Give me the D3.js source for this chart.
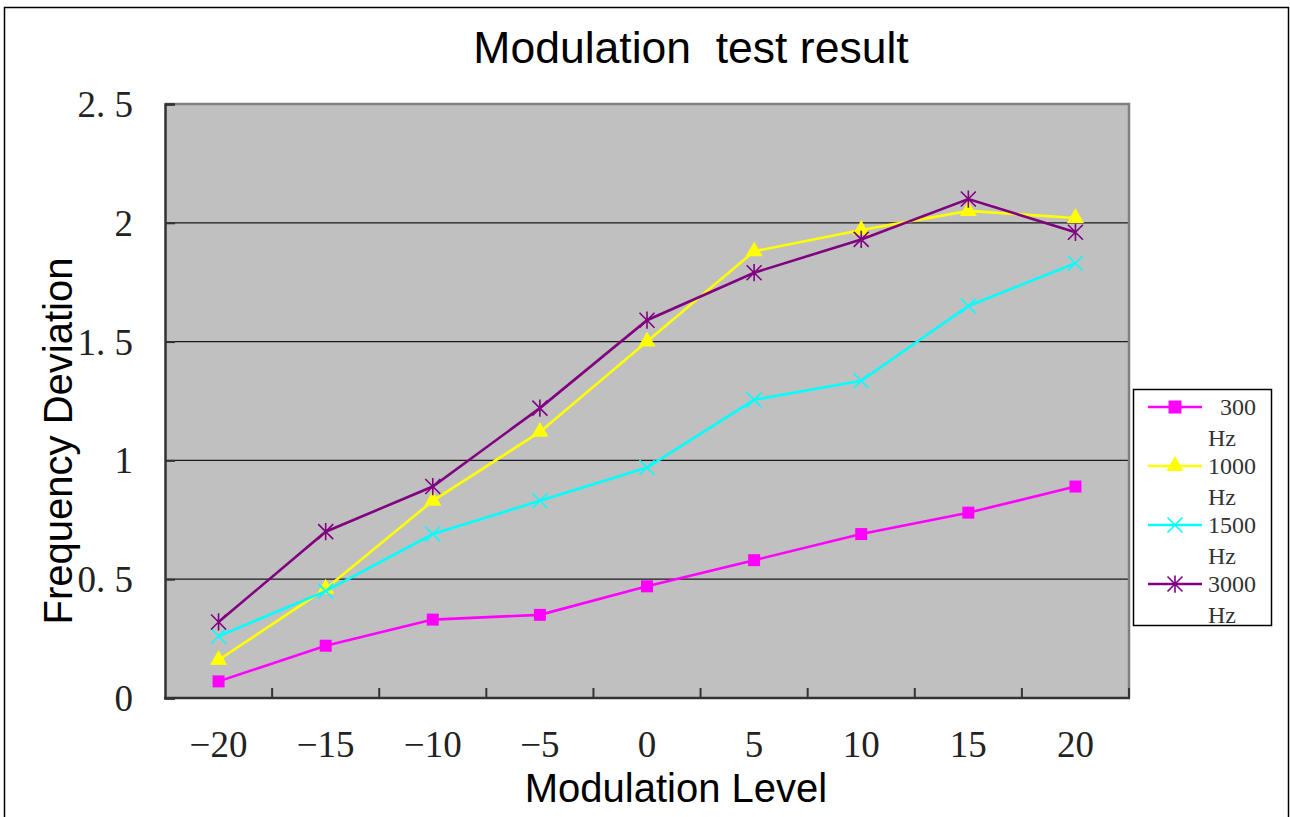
<!DOCTYPE html>
<html>
<head>
<meta charset="utf-8">
<script src="https://cdn.jsdelivr.net/npm/d3@7/dist/d3.min.js"></script>
<style>
  html, body { margin: 0; padding: 0; background: #ffffff; }
  svg { display: block; }
</style>
</head>
<body>
<svg id="chart" width="1290" height="817"></svg>
<script>
// ---- Data ----
const categories = ["-20", "-15", "-10", "-5", "0", "5", "10", "15", "20"];
const xTickLabels = ["\u221220", "\u221215", "\u221210", "\u22125", "0", "5", "10", "15", "20"];
const yTicks = [0, 0.5, 1, 1.5, 2, 2.5];
const yTickLabels = ["0", "0. 5", "1", "1. 5", "2", "2. 5"];
const seriesNames = ["300", "1000", "1500", "3000"];
const values300 = [0.07, 0.22, 0.33, 0.35, 0.47, 0.58, 0.69, 0.78, 0.89];
const values1000 = [0.16, 0.46, 0.83, 1.12, 1.50, 1.88, 1.97, 2.05, 2.02];
const values1500 = [0.26, 0.45, 0.69, 0.83, 0.97, 1.255, 1.335, 1.65, 1.83];
const values3000 = [0.32, 0.70, 0.89, 1.22, 1.59, 1.79, 1.93, 2.10, 1.96];
const titleText = "Modulation\u00a0 test result";
const xTitle = "Modulation Level";
const yTitle = "Frequency Deviation";

const seriesValues = [values300, values1000, values1500, values3000];
const colors = ["#FF00FF", "#FFFF00", "#00FFFF", "#800080"];
const markers = ["square", "triangle", "x", "star"];

// ---- Layout ----
const svg = d3.select("#chart");
const plot = { left: 165, right: 1129, top: 104, bottom: 698 };

const x = d3.scaleBand().domain(categories).range([plot.left, plot.right]).padding(0);
const y = d3.scaleLinear().domain([0, 2.5]).range([plot.bottom, plot.top]);

// Outer frame
svg.append("rect")
  .attr("x", 4.5).attr("y", 7.5)
  .attr("width", 1284).attr("height", 830)
  .attr("fill", "none").attr("stroke", "#000").attr("stroke-width", 1.5);

// Plot background
svg.append("rect")
  .attr("x", plot.left).attr("y", plot.top)
  .attr("width", plot.right - plot.left).attr("height", plot.bottom - plot.top)
  .attr("fill", "#C0C0C0");

// Gridlines
svg.append("g").selectAll("line")
  .data(yTicks.filter(d => d > 0 && d < 2.5))
  .join("line")
  .attr("x1", plot.left).attr("x2", plot.right)
  .attr("y1", d => y(d)).attr("y2", d => y(d))
  .attr("stroke", "#1a1a1a").attr("stroke-width", 1.3);

// Top and right border (gray)
svg.append("path")
  .attr("d", `M${plot.left},${plot.top}H${plot.right}V${plot.bottom}`)
  .attr("fill", "none").attr("stroke", "#808080").attr("stroke-width", 2.5);

// Y axis (left)
const yAxis = d3.axisLeft(y).tickValues(yTicks).tickSize(-10)
  .tickFormat((d, i) => yTickLabels[i]).tickPadding(32);
const gy = svg.append("g").attr("transform", `translate(${plot.left},0)`).call(yAxis);
gy.select(".domain").attr("stroke", "#333").attr("stroke-width", 2.5);
gy.selectAll(".tick line").attr("stroke", "#333").attr("stroke-width", 2);
gy.selectAll(".tick text")
  .attr("font-family", "'Liberation Serif', 'DejaVu Serif', serif")
  .attr("font-size", 37).attr("fill", "#222")
  .attr("x", -(plot.left - 133)).attr("dy", "0.34em");

// X axis (bottom) with inward ticks at category boundaries
const boundaries = categories.slice(1).map(c => x(c)).concat([plot.right]);
svg.append("g").selectAll("line")
  .data(boundaries)
  .join("line")
  .attr("x1", d => d).attr("x2", d => d)
  .attr("y1", plot.bottom).attr("y2", plot.bottom - 10)
  .attr("stroke", "#333").attr("stroke-width", 2);
svg.append("line")
  .attr("x1", plot.left - 1).attr("x2", plot.right + 1)
  .attr("y1", plot.bottom).attr("y2", plot.bottom)
  .attr("stroke", "#333").attr("stroke-width", 2.5);

const xAxis = d3.axisBottom(x).tickSize(0).tickFormat((d, i) => xTickLabels[i]);
const gx = svg.append("g").attr("transform", `translate(0,${plot.bottom})`).call(xAxis);
gx.select(".domain").remove();
gx.selectAll(".tick text")
  .attr("font-family", "'Liberation Serif', 'DejaVu Serif', serif")
  .attr("font-size", 37).attr("fill", "#222")
  .attr("y", 59).attr("dy", 0);

// Marker generator
function markerPath(type, s) {
  if (type === "square") return d3.symbol(d3.symbolSquare, s * s)();
  if (type === "triangle") return d3.symbol(d3.symbolTriangle, s * s * 0.5)();
  const r = s / 2;
  if (type === "x") return `M${-r},${-r}L${r},${r}M${-r},${r}L${r},${-r}`;
  return `M${-r},${-r}L${r},${r}M${-r},${r}L${r},${-r}M0,${-r * 1.15}L0,${r * 1.15}`;
}
function drawMarker(g, type, color, cx, cy, s) {
  const filled = type === "square" || type === "triangle";
  g.append("path")
    .attr("d", markerPath(type, s))
    .attr("transform", `translate(${cx},${cy})`)
    .attr("fill", filled ? color : "none")
    .attr("stroke", color)
    .attr("stroke-width", filled ? 0 : 1.6);
}

// Lines and markers
const line = d3.line().x((d, i) => x(categories[i]) + x.bandwidth() / 2).y(d => y(d));
seriesValues.forEach((vals, si) => {
  const g = svg.append("g");
  g.append("path").datum(vals)
    .attr("d", line)
    .attr("fill", "none").attr("stroke", colors[si]).attr("stroke-width", 2.6);
  vals.forEach((v, i) => {
    drawMarker(g, markers[si], colors[si], x(categories[i]) + x.bandwidth() / 2, y(v),
      markers[si] === "square" ? 12 : markers[si] === "triangle" ? 16 : 15);
  });
});

// Title
svg.append("text")
  .attr("x", 691).attr("y", 63)
  .attr("text-anchor", "middle")
  .attr("font-family", "'Liberation Sans', Arial, sans-serif")
  .attr("font-size", 44.5).attr("fill", "#000")
  .text(titleText);

// Axis titles
svg.append("text")
  .attr("x", 676).attr("y", 802)
  .attr("text-anchor", "middle")
  .attr("font-family", "'Liberation Sans', Arial, sans-serif")
  .attr("font-size", 40).attr("fill", "#000")
  .text(xTitle);
svg.append("text")
  .attr("transform", "translate(72,441) rotate(-90)")
  .attr("text-anchor", "middle")
  .attr("font-family", "'Liberation Sans', Arial, sans-serif")
  .attr("font-size", 40).attr("fill", "#000")
  .text(yTitle);

// Legend
const legend = svg.append("g");
legend.append("rect")
  .attr("x", 1133.5).attr("y", 389.5).attr("width", 138).attr("height", 236)
  .attr("fill", "#fff").attr("stroke", "#000").attr("stroke-width", 1.5);
const legendRowY = [407, 466, 525, 584];
seriesNames.forEach((name, si) => {
  const ly = legendRowY[si];
  legend.append("line")
    .attr("x1", 1148).attr("x2", 1202).attr("y1", ly).attr("y2", ly)
    .attr("stroke", colors[si]).attr("stroke-width", 2.6);
  drawMarker(legend, markers[si], colors[si], 1175, ly,
    markers[si] === "square" ? 13 : markers[si] === "triangle" ? 16 : 15);
  legend.append("text")
    .attr("x", 1256).attr("y", ly + 8)
    .attr("text-anchor", "end")
    .attr("font-family", "'Liberation Serif', 'DejaVu Serif', serif")
    .attr("font-size", 24).attr("fill", "#333")
    .text(name);
  legend.append("text")
    .attr("x", 1208).attr("y", ly + 39)
    .attr("font-family", "'Liberation Serif', 'DejaVu Serif', serif")
    .attr("font-size", 24).attr("fill", "#333")
    .text("Hz");
});
</script>
</body>
</html>
